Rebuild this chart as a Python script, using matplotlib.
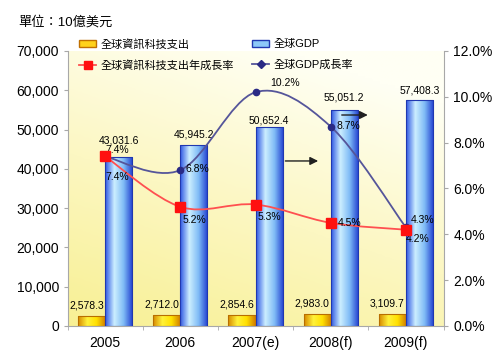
import numpy as np
import matplotlib.pyplot as plt
from matplotlib.path import Path
from matplotlib.patches import PathPatch, Patch
from matplotlib.lines import Line2D
from matplotlib.colors import LinearSegmentedColormap
from matplotlib.ticker import FuncFormatter

plt.rcParams['font.family'] = ['Liberation Sans', 'Noto Sans CJK TC']

years = ['2005', '2006', '2007(e)', '2008(f)', '2009(f)']
it_spend = [2578.3, 2712.0, 2854.6, 2983.0, 3109.7]
gdp = [43031.6, 45945.2, 50652.4, 55051.2, 57408.3]
it_growth = [7.4, 5.2, 5.3, 4.5, 4.2]
gdp_growth = [7.4, 6.8, 10.2, 8.7, 4.3]

# label offsets (points)
gdp_dy = [12, 8, 5, 9, 7.5]
gdp_pct_off = [(8.6, 4.3), (12.2, 0.7), (21, 6.5), (12.6, 0.7), (11.9, 5.4)]
it_pct_off = [(9, -15), (10, -9.4), (10, -9), (13.7, 0), (8.6, -6.5)]

fig = plt.figure(figsize=(5, 3.63), dpi=100)
ax = fig.add_axes([0.135, 0.102, 0.752, 0.7576])
ax2 = ax.twinx()

x = np.arange(len(years))
w = 0.36

# background gradient
bg = LinearSegmentedColormap.from_list('bg', ['#f8f094', '#fcf7c2', '#fffff4'])
gy = np.linspace(0, 1, 200)[:, None]
gx = np.linspace(0, 1, 50)[None, :]
grad = np.clip(gy * 0.8 + gx * 0.35, 0, 1)
ax.imshow(grad, extent=[-0.5, 4.5, 0, 70000], origin='lower', aspect='auto',
          cmap=bg, zorder=0)

# bars with cylinder-like gradient
ycm = LinearSegmentedColormap.from_list('yc', ['#d88a00', '#fff23a', '#ffe000', '#d07a00'])
bcm = LinearSegmentedColormap.from_list('bc', ['#2f58e4', '#cceeff', '#80bcf6', '#2240d0'])
row = np.linspace(0, 1, 60)[None, :]

bars_y = ax.bar(x - w / 2, it_spend, w, facecolor='none', edgecolor='#b86e00', lw=0.8, zorder=3)
bars_b = ax.bar(x + w / 2, gdp, w, facecolor='none', edgecolor='#2038b0', lw=0.8, zorder=3)
for bars, cm in [(bars_y, ycm), (bars_b, bcm)]:
    for r in bars:
        im = ax.imshow(row, extent=[r.get_x(), r.get_x() + r.get_width(), 0, r.get_height()],
                       aspect='auto', cmap=cm, zorder=2)
        im.set_clip_path(r)

for i in range(len(years)):
    ax.annotate(f'{gdp[i]:,.1f}', (x[i] + w / 2, gdp[i]), xytext=(0, gdp_dy[i]),
                textcoords='offset points', ha='center', va='center', fontsize=7.5)
    ax.annotate(f'{it_spend[i]:,.1f}', (x[i] - w / 2, it_spend[i]), xytext=(-3.5, 7.5),
                textcoords='offset points', ha='center', va='center', fontsize=7.5)

# arrows
ax.annotate('', xy=(2.87, 42000), xytext=(2.36, 42000),
            arrowprops=dict(arrowstyle='-|>', color='#202020', lw=1, mutation_scale=12), zorder=4)
ax.annotate('', xy=(3.53, 53700), xytext=(3.11, 53700),
            arrowprops=dict(arrowstyle='-|>', color='#202020', lw=1, mutation_scale=12), zorder=4)


def smooth(xs, ys):
    pts = np.column_stack([xs, ys]).astype(float)
    p = np.vstack([pts[0], pts, pts[-1]])
    verts = [pts[0]]
    codes = [Path.MOVETO]
    for i in range(1, len(p) - 2):
        c1 = p[i] + (p[i + 1] - p[i - 1]) / 6
        c2 = p[i + 1] - (p[i + 2] - p[i]) / 6
        verts += [c1, c2, p[i + 1]]
        codes += [Path.CURVE4] * 3
    return Path(verts, codes)


ax2.add_patch(PathPatch(smooth(x, gdp_growth), fill=False, edgecolor='#55559a', lw=1.3, zorder=3))
ax2.add_patch(PathPatch(smooth(x, it_growth), fill=False, edgecolor='#ff5050', lw=1.3, zorder=3))
ax2.plot(x, gdp_growth, ls='none', marker='o', ms=4.5, color='#2a2a85', zorder=4)
ax2.plot(x, it_growth, ls='none', marker='s', ms=7, color='#ff1010', zorder=5)

for i in range(len(years)):
    ax2.annotate(f'{gdp_growth[i]:.1f}%', (x[i], gdp_growth[i]), xytext=gdp_pct_off[i],
                 textcoords='offset points', ha='center', va='center', fontsize=7.5)
    ax2.annotate(f'{it_growth[i]:.1f}%', (x[i], it_growth[i]), xytext=it_pct_off[i],
                 textcoords='offset points', ha='center', va='center', fontsize=7.5)

# axes styling
ax.set_xlim(-0.5, 4.5)
ax.set_ylim(0, 70000)
ax2.set_ylim(0, 12)
ax.set_yticks(np.arange(0, 70001, 10000))
ax2.set_yticks(np.arange(0, 12.1, 2))
ax.yaxis.set_major_formatter(FuncFormatter(lambda v, p: f'{v:,.0f}'))
ax2.yaxis.set_major_formatter(FuncFormatter(lambda v, p: f'{v:.1f}%'))
ax.set_xticks(x)
ax.set_xticklabels(years)
ax.set_xticks(np.arange(-0.5, 4.6, 1), minor=True)

for a in (ax, ax2):
    for s in a.spines.values():
        s.set_color('#a8a8a8')
    a.spines['top'].set_visible(False)
ax.spines['right'].set_visible(False)
ax2.spines['left'].set_visible(False)
ax2.spines['bottom'].set_visible(False)
ax.tick_params(axis='x', which='major', length=0, pad=7, labelsize=10)
ax.tick_params(axis='x', which='minor', length=3, color='#a8a8a8')
ax.tick_params(axis='y', length=3, color='#a8a8a8', pad=3, labelsize=10)
ax2.tick_params(axis='y', length=3, color='#a8a8a8', pad=4, labelsize=10)

handles = [Patch(facecolor='#ffd21a', edgecolor='#c07000'),
           Line2D([], [], color='#ff5050', lw=1.3, marker='s', ms=6, mfc='#ff1010', mec='#ff1010'),
           Patch(facecolor='#8cc8f8', edgecolor='#2038b0'),
           Line2D([], [], color='#55559a', lw=1.3, marker='D', ms=4, mfc='#2a2a85', mec='#2a2a85')]
labels = ['全球資訊科技支出', '全球資訊科技支出年成長率', '全球GDP', '全球GDP成長率']
fig.legend(handles, labels, ncol=2, loc='upper left', bbox_to_anchor=(0.143, 0.915),
           frameon=False, fontsize=8, handlelength=1.5, handletextpad=0.45,
           columnspacing=1.6, labelspacing=0.95, borderpad=0.2)

fig.text(0.036, 0.94, '單位：10億美元', fontsize=9.5, va='center')

fig.savefig('out.png', dpi=100)
